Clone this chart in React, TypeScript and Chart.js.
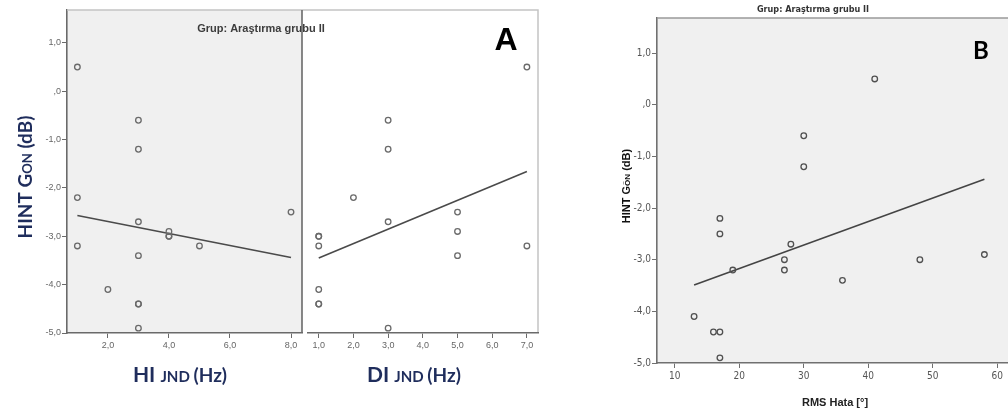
import React, { useEffect, useRef } from "react";
import { Chart, registerables } from "chart.js";

Chart.register(...registerables);

// ---------- data ----------
const groupTitle = "Grup: Araştırma grubu II";

const yTickValues = [-5, -4, -3, -2, -1, 0, 1];
const hiTickValues = [2, 4, 6, 8];
const diTickValues = [1, 2, 3, 4, 5, 6, 7];
const rmsTickValues = [10, 20, 30, 40, 50, 60];

const hintY = [0.5, -0.6, -1.2, -2.2, -2.5, -2.7, -2.9, -3.0, -3.0, -3.2, -3.2, -3.4, -4.1, -4.4, -4.4, -4.9];
const hiX = [1, 3, 3, 1, 8, 3, 4, 4, 4, 1, 5, 3, 2, 3, 3, 3];
const diX = [7, 3, 3, 2, 5, 3, 5, 1, 1, 1, 7, 5, 1, 1, 1, 3];

const rmsX = [41, 30, 30, 17, 17, 28, 27, 48, 27, 19, 36, 58, 13, 16, 17, 17];
const rmsY = [0.5, -0.6, -1.2, -2.2, -2.5, -2.7, -3.0, -3.0, -3.2, -3.2, -3.4, -2.9, -4.1, -4.4, -4.4, -4.9];

const hiFitX = [1, 8];
const hiFitY = [-2.57, -3.44];
const diFitX = [1, 7];
const diFitY = [-3.45, -1.66];
const rmsFitX = [13, 58];
const rmsFitY = [-3.49, -1.44];

const yMin = -5;
const yMax = 1.68;

// ---------- helpers ----------
const zip = (xs: number[], ys: number[]) => xs.map((x, i) => ({ x, y: ys[i] }));
const fmtDec = (v: number) => (v === 0 ? ",0" : v.toFixed(1).replace(".", ","));

type Part = { text: string; size: number };

function drawRich(
  ctx: CanvasRenderingContext2D,
  parts: Part[],
  family: string,
  color: string,
  cx: number,
  cy: number,
  angle: number
) {
  ctx.save();
  ctx.translate(cx, cy);
  ctx.rotate(angle);
  ctx.fillStyle = color;
  ctx.textBaseline = "alphabetic";
  ctx.textAlign = "left";
  const widths = parts.map((p) => {
    ctx.font = `bold ${p.size}px ${family}`;
    return ctx.measureText(p.text).width;
  });
  const total = widths.reduce((a, b) => a + b, 0);
  const maxSize = Math.max(...parts.map((p) => p.size));
  const base = maxSize * 0.36;
  let x = -total / 2;
  parts.forEach((p, i) => {
    ctx.font = `bold ${p.size}px ${family}`;
    ctx.fillText(p.text, x, base);
    x += widths[i];
  });
  ctx.restore();
}

type PanelCfg = {
  pad: { left: number; top: number; right: number };
  yWidth: number;
  xHeight: number;
  showY: boolean;
  xMin: number;
  xMax: number;
  xTicks: number[];
  xFmt: (v: number) => string;
  points: { x: number; y: number }[];
  fit: { x: number; y: number }[];
  tickFont: { family: string; size: number };
  tickColor: string;
  axisColor: string;
  pointColor: string;
  lineColor: string;
  bg: string | null;
  decorate: (ctx: CanvasRenderingContext2D, area: { left: number; right: number; top: number; bottom: number }) => void;
};

function buildChart(canvas: HTMLCanvasElement, c: PanelCfg) {
  const plugin = {
    id: "decor",
    beforeDraw(chart: any) {
      const { ctx, chartArea } = chart;
      if (c.bg) {
        ctx.save();
        ctx.fillStyle = c.bg;
        ctx.fillRect(chartArea.left, chartArea.top, chartArea.right - chartArea.left, chartArea.bottom - chartArea.top);
        ctx.restore();
      }
    },
    afterDraw(chart: any) {
      c.decorate(chart.ctx, chart.chartArea);
    },
  };
  return new Chart(canvas, {
    type: "scatter",
    data: {
      datasets: [
        {
          data: c.points,
          pointRadius: 2.8,
          pointBorderWidth: 1.3,
          pointBorderColor: c.pointColor,
          pointBackgroundColor: "rgba(0,0,0,0)",
          showLine: false,
        },
        {
          data: c.fit,
          showLine: true,
          pointRadius: 0,
          borderColor: c.lineColor,
          borderWidth: 1.6,
        },
      ],
    },
    options: {
      responsive: false,
      animation: false,
      devicePixelRatio: 1,
      layout: { padding: { left: c.pad.left, top: c.pad.top, right: c.pad.right, bottom: 0 } },
      plugins: { legend: { display: false }, tooltip: { enabled: false }, title: { display: false } },
      scales: {
        x: {
          type: "linear",
          min: c.xMin,
          max: c.xMax,
          afterBuildTicks: (s: any) => {
            s.ticks = c.xTicks.map((v) => ({ value: v }));
          },
          afterFit: (s: any) => {
            s.height = c.xHeight;
            s.paddingLeft = 0;
            s.paddingRight = 0;
          },
          ticks: {
            maxRotation: 0,
            autoSkip: false,
            padding: 2,
            color: c.tickColor,
            font: c.tickFont,
            callback: (v: any) => c.xFmt(Number(v)),
          },
          grid: { display: true, drawOnChartArea: false, drawTicks: true, tickLength: 5, color: c.axisColor, lineWidth: 1 },
          border: { display: true, color: c.axisColor, width: 1.6 },
        },
        y: {
          type: "linear",
          display: c.showY,
          min: yMin,
          max: yMax,
          afterBuildTicks: (s: any) => {
            s.ticks = yTickValues.map((v) => ({ value: v }));
          },
          afterFit: (s: any) => {
            s.width = c.yWidth;
            s.paddingTop = 0;
            s.paddingBottom = 0;
          },
          ticks: {
            autoSkip: false,
            padding: 1,
            color: c.tickColor,
            font: c.tickFont,
            callback: (v: any) => fmtDec(Number(v)),
          },
          grid: { display: true, drawOnChartArea: false, drawTicks: true, tickLength: 5, color: c.axisColor, lineWidth: 1 },
          border: { display: true, color: c.axisColor, width: 1.6 },
        },
      },
    } as any,
    plugins: [plugin],
  });
}

const NAVY = "#1f2d5c";

export default function App() {
  const aLeft = useRef<HTMLCanvasElement>(null);
  const aRight = useRef<HTMLCanvasElement>(null);
  const bRef = useRef<HTMLCanvasElement>(null);

  useEffect(() => {
    const charts: Chart[] = [];
    const tickA = { family: "'Liberation Sans', Arial, sans-serif", size: 9 };
    const tickB = { family: "'Liberation Sans Narrow', 'DejaVu Sans Condensed', sans-serif", size: 10 };

    charts.push(
      buildChart(aLeft.current!, {
        pad: { left: 0, top: 10, right: 258 },
        yWidth: 67,
        xHeight: 81,
        showY: true,
        xMin: 0.66,
        xMax: 8.36,
        xTicks: hiTickValues,
        xFmt: fmtDec,
        points: zip(hiX, hintY),
        fit: zip(hiFitX, hiFitY),
        tickFont: tickA,
        tickColor: "#666",
        axisColor: "#6a6a6a",
        pointColor: "#6a6a6a",
        lineColor: "#4a4a4a",
        bg: "#f0f0f0",
        decorate: (ctx, a) => {
          ctx.save();
          ctx.strokeStyle = "#c4c4c4";
          ctx.lineWidth = 1.5;
          ctx.beginPath();
          ctx.moveTo(a.left, a.top);
          ctx.lineTo(538, a.top);
          ctx.lineTo(538, a.bottom);
          ctx.stroke();
          ctx.restore();
          ctx.save();
          ctx.fillStyle = "#3c3c3c";
          ctx.font = "bold 11px 'Liberation Sans', Arial, sans-serif";
          ctx.textAlign = "center";
          ctx.textBaseline = "middle";
          ctx.fillText(groupTitle, 261, 28.5);
          ctx.restore();
          ctx.save();
          ctx.strokeStyle = "#6a6a6a";
          ctx.lineWidth = 1.6;
          ctx.beginPath();
          ctx.moveTo(a.right, a.top);
          ctx.lineTo(a.right, a.bottom);
          ctx.stroke();
          ctx.restore();
          ctx.save();
          ctx.fillStyle = "#000";
          ctx.font = "bold 32px 'Liberation Sans', Arial, sans-serif";
          ctx.textAlign = "center";
          ctx.textBaseline = "alphabetic";
          ctx.fillText("A", 506, 50);
          ctx.restore();
          const fam = "Lato, 'Open Sans', sans-serif";
          drawRich(ctx, [{ text: "HINT G", size: 19 }, { text: "ON", size: 13 }, { text: " (dB)", size: 19 }], fam, NAVY, 25, 177, -Math.PI / 2);
          drawRich(ctx, [{ text: "HI ", size: 21 }, { text: "JND ", size: 15 }, { text: "(Hz)", size: 19 }], fam, NAVY, 180, 374.5, 0);
          drawRich(ctx, [{ text: "DI ", size: 21 }, { text: "JND ", size: 15 }, { text: "(Hz)", size: 19 }], fam, NAVY, 414, 374.5, 0);
        },
      })
    );

    charts.push(
      buildChart(aRight.current!, {
        pad: { left: 0, top: 10, right: 22 },
        yWidth: 0,
        xHeight: 81,
        showY: false,
        xMin: 0.67,
        xMax: 7.32,
        xTicks: diTickValues,
        xFmt: fmtDec,
        points: zip(diX, hintY),
        fit: zip(diFitX, diFitY),
        tickFont: tickA,
        tickColor: "#666",
        axisColor: "#6a6a6a",
        pointColor: "#6a6a6a",
        lineColor: "#4a4a4a",
        bg: null,
        decorate: () => {},
      })
    );

    charts.push(
      buildChart(bRef.current!, {
        pad: { left: 0, top: 18, right: 12 },
        yWidth: 57,
        xHeight: 51,
        showY: true,
        xMin: 7.25,
        xMax: 61.66,
        xTicks: rmsTickValues,
        xFmt: (v) => String(v),
        points: zip(rmsX, rmsY),
        fit: zip(rmsFitX, rmsFitY),
        tickFont: tickB,
        tickColor: "#555",
        axisColor: "#707070",
        pointColor: "#505050",
        lineColor: "#444",
        bg: "#f0f0f0",
        decorate: (ctx, a) => {
          ctx.save();
          ctx.strokeStyle = "#9a9a9a";
          ctx.lineWidth = 1.6;
          ctx.beginPath();
          ctx.moveTo(a.left, a.top);
          ctx.lineTo(a.right, a.top);
          ctx.stroke();
          ctx.restore();
          ctx.save();
          ctx.fillStyle = "#333";
          ctx.font = "bold 9px 'Liberation Sans Narrow', 'DejaVu Sans Condensed', sans-serif";
          ctx.textAlign = "center";
          ctx.textBaseline = "middle";
          ctx.fillText(groupTitle, 213, 10);
          ctx.restore();
          ctx.save();
          ctx.fillStyle = "#000";
          ctx.font = "bold 24px Lato, 'Open Sans', sans-serif";
          ctx.textAlign = "center";
          ctx.textBaseline = "alphabetic";
          ctx.fillText("B", 381, 59);
          ctx.restore();
          const fam = "'Liberation Sans', Arial, sans-serif";
          drawRich(ctx, [{ text: "HINT G", size: 11 }, { text: "ÖN", size: 8 }, { text: " (dB)", size: 11 }], fam, "#111", 26, 186, -Math.PI / 2);
          drawRich(ctx, [{ text: "RMS Hata [°]", size: 11 }], fam, "#222", 235, 402, 0);
        },
      })
    );

    return () => charts.forEach((ch) => ch.destroy());
  }, []);

  return (
    <div style={{ position: "fixed", left: 0, top: 0, width: 1008, height: 414, background: "#fff", overflow: "hidden" }}>
      <canvas ref={aLeft} width={560} height={414} style={{ position: "absolute", left: 0, top: 0 }} />
      <canvas ref={aRight} width={258} height={414} style={{ position: "absolute", left: 302, top: 0 }} />
      <canvas ref={bRef} width={420} height={414} style={{ position: "absolute", left: 600, top: 0 }} />
    </div>
  );
}
